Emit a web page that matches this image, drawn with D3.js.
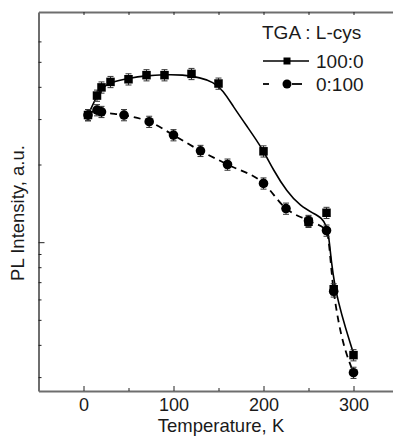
<!DOCTYPE html>
<html>
<head>
<meta charset="utf-8">
<script src="https://cdn.jsdelivr.net/npm/d3@7/dist/d3.min.js"></script>
<style>
  body { margin: 0; background: #fff; }
  svg { display: block; font-family: "Liberation Sans", Arial, sans-serif; }
</style>
</head>
<body>
<svg id="chart"></svg>
<script>
// values, PL intensity in a.u. on a log axis
const tempSquare = [5, 15, 20, 30, 50, 70, 90, 120, 150, 200, 250, 270, 278, 300];
const plSquare = [3.11, 3.70, 3.98, 4.18, 4.28, 4.44, 4.44, 4.49, 4.12, 2.25, 1.20, 1.30, 0.657, 0.365];
const errSquare = [0.05, 0.05, 0.05, 0.05, 0.05, 0.05, 0.05, 0.05, 0.05, 0.05, 0.05, 0.05, 0.05, 0.05];

const tempCircle = [5, 15, 20, 45, 73, 100, 130, 160, 200, 225, 250, 270, 278, 300];
const plCircle = [3.11, 3.25, 3.20, 3.11, 2.93, 2.60, 2.26, 2.00, 1.69, 1.35, 1.21, 1.11, 0.645, 0.312];
const errCircle = [0.05, 0.05, 0.05, 0.05, 0.05, 0.05, 0.05, 0.05, 0.05, 0.05, 0.05, 0.05, 0.05, 0.05];

// smooth guide line drawn through the 100:0 data in the figure
const fitTemp = [5, 15, 20, 30, 50, 70, 90, 110, 130, 144, 155, 166, 182, 199, 211, 226, 241, 256, 265, 270, 273, 278, 300];
const fitPL = [3.11, 3.70, 3.95, 4.17, 4.32, 4.42, 4.46, 4.46, 4.34, 4.18, 3.88, 3.37, 2.80, 2.30, 1.90, 1.57, 1.38, 1.29, 1.24, 1.16, 1.05, 0.652, 0.370];

const xMajorTicks = [0, 100, 200, 300];
const xMinorTicks = [50, 150, 250];
const yMajorTicks = [1];
const yMinorTicks = [0.3, 0.4, 0.5, 0.6, 0.7, 0.8, 0.9, 2, 3, 4, 5, 6];

const legendTitle = "TGA : L-cys";
const seriesNames = ["100:0", "0:100"];
const xLabel = "Temperature, K";
const yLabel = "PL Intensity, a.u.";

class PLChart {
  constructor(config) {
    this.config = {
      parentElement: config.parentElement,
      containerWidth: config.containerWidth || 393,
      containerHeight: config.containerHeight || 440,
      margin: config.margin || { top: 12, left: 38.5, bottom: 49 },
      plotRight: config.plotRight || 398.5,
    };
    this.initVis();
  }

  initVis() {
    const vis = this;
    const m = vis.config.margin;
    vis.bottom = vis.config.containerHeight - m.bottom;

    vis.svg = d3.select(vis.config.parentElement)
      .attr("width", vis.config.containerWidth)
      .attr("height", vis.config.containerHeight);

    // plot box runs a little past the right edge of the window
    vis.xScale = d3.scaleLinear().domain([-50, 350]).range([m.left, vis.config.plotRight]);
    vis.yScale = d3.scaleLog().domain([0.265, 7.8]).range([vis.bottom, m.top]);

    vis.renderVis();
  }

  renderVis() {
    const vis = this;
    const x = vis.xScale, y = vis.yScale;
    const m = vis.config.margin;

    // ticks point inward on every side
    const xMajor = vis.svg.append("g")
      .attr("transform", `translate(0,${vis.bottom})`)
      .call(d3.axisBottom(x).tickValues(xMajorTicks).tickSizeInner(-5).tickSizeOuter(0).tickPadding(7));
    vis.svg.append("g")
      .attr("transform", `translate(0,${vis.bottom})`)
      .call(d3.axisBottom(x).tickValues(xMinorTicks).tickSizeInner(-3).tickSizeOuter(0).tickFormat(""))
      .select(".domain").remove();
    vis.svg.append("g")
      .attr("transform", `translate(0,${m.top})`)
      .call(d3.axisTop(x).tickValues(xMajorTicks.concat(xMinorTicks)).tickSizeInner(-3).tickSizeOuter(0).tickFormat(""));
    vis.svg.append("g")
      .attr("transform", `translate(${m.left},0)`)
      .call(d3.axisLeft(y).tickValues(yMinorTicks).tickSizeInner(-3).tickSizeOuter(0).tickFormat(""));
    vis.svg.append("g")
      .attr("transform", `translate(${m.left},0)`)
      .call(d3.axisLeft(y).tickValues(yMajorTicks).tickSizeInner(-6).tickSizeOuter(0).tickFormat(""))
      .select(".domain").remove();

    vis.svg.selectAll(".domain").attr("stroke", "#6e6e6e").attr("stroke-width", 2);
    vis.svg.selectAll(".tick line").attr("stroke", "#222").attr("stroke-width", 1);
    xMajor.selectAll(".tick text")
      .attr("font-size", 18)
      .attr("fill", "#1a1a1a")
      .attr("font-family", "Liberation Sans, Arial, sans-serif");

    // axis titles
    vis.svg.append("text")
      .attr("x", 221)
      .attr("y", 432)
      .attr("text-anchor", "middle")
      .attr("font-size", 18.5)
      .attr("fill", "#1a1a1a")
      .text(xLabel);
    vis.svg.append("text")
      .attr("transform", "translate(24,213) rotate(-90)")
      .attr("text-anchor", "middle")
      .attr("font-size", 18.5)
      .attr("fill", "#1a1a1a")
      .text(yLabel);

    const squares = tempSquare.map((t, i) => ({ t, v: plSquare[i], e: errSquare[i] }));
    const circles = tempCircle.map((t, i) => ({ t, v: plCircle[i], e: errCircle[i] }));
    const fit = fitTemp.map((t, i) => ({ t, v: fitPL[i] }));

    const fitLine = d3.line().x(d => x(d.t)).y(d => y(d.v)).curve(d3.curveBasis);
    const dashLine = d3.line().x(d => x(d.t)).y(d => y(d.v)).curve(d3.curveMonotoneX);

    vis.svg.append("path")
      .datum(fit)
      .attr("d", fitLine)
      .attr("fill", "none")
      .attr("stroke", "#000")
      .attr("stroke-width", 1.6);
    vis.svg.append("path")
      .datum(circles)
      .attr("d", dashLine)
      .attr("fill", "none")
      .attr("stroke", "#000")
      .attr("stroke-width", 1.8)
      .attr("stroke-dasharray", "7,5");

    // error bars with caps
    const drawErrors = (data) => {
      const g = vis.svg.append("g").attr("stroke", "#333").attr("stroke-width", 1);
      data.forEach(d => {
        const cx = x(d.t), y0 = y(d.v * (1 + d.e)), y1 = y(d.v * (1 - d.e));
        g.append("line").attr("x1", cx).attr("x2", cx).attr("y1", y0).attr("y2", y1);
        g.append("line").attr("x1", cx - 3).attr("x2", cx + 3).attr("y1", y0).attr("y2", y0);
        g.append("line").attr("x1", cx - 3).attr("x2", cx + 3).attr("y1", y1).attr("y2", y1);
      });
    };
    drawErrors(circles);
    drawErrors(squares);

    vis.svg.append("g").selectAll("circle")
      .data(circles)
      .join("circle")
      .attr("cx", d => x(d.t))
      .attr("cy", d => y(d.v))
      .attr("r", 4.8)
      .attr("fill", "#000");

    const sq = 8.5;
    vis.svg.append("g").selectAll("rect")
      .data(squares)
      .join("rect")
      .attr("x", d => x(d.t) - sq / 2)
      .attr("y", d => y(d.v) - sq / 2)
      .attr("width", sq)
      .attr("height", sq)
      .attr("fill", "#000");

    // legend
    const legend = vis.svg.append("g").attr("fill", "#1a1a1a").attr("font-size", 19);
    legend.append("text").attr("x", 262).attr("y", 39).text(legendTitle);
    legend.append("text").attr("x", 316).attr("y", 68).text(seriesNames[0]);
    legend.append("text").attr("x", 316).attr("y", 91).text(seriesNames[1]);

    legend.append("line")
      .attr("x1", 263).attr("x2", 309).attr("y1", 61).attr("y2", 61)
      .attr("stroke", "#000").attr("stroke-width", 1.6);
    legend.append("rect")
      .attr("x", 283.5).attr("y", 57.5).attr("width", 7).attr("height", 7)
      .attr("fill", "#000");

    [[263, 269], [292, 302]].forEach(([a, b]) => {
      legend.append("line")
        .attr("x1", a).attr("x2", b).attr("y1", 84).attr("y2", 84)
        .attr("stroke", "#000").attr("stroke-width", 1.8);
    });
    legend.append("circle").attr("cx", 287).attr("cy", 84).attr("r", 4.5).attr("fill", "#000");
  }
}

new PLChart({ parentElement: "#chart" });
</script>
</body>
</html>
